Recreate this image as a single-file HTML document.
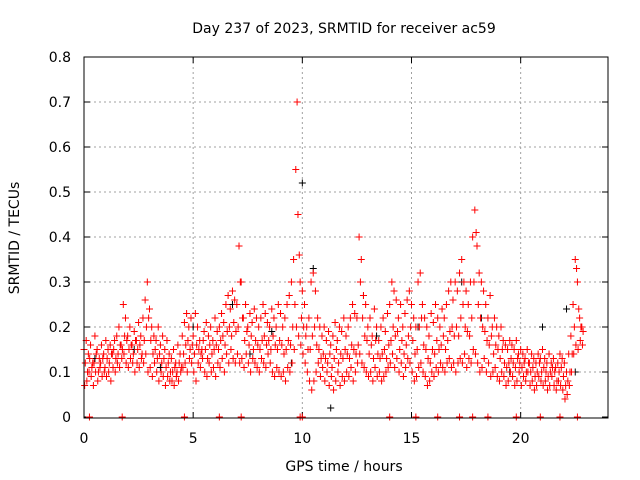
<!DOCTYPE html>
<html><head><meta charset="utf-8"><style>
body{margin:0;background:#fff;}
svg{display:block;font-family:"DejaVu Sans","Liberation Sans",sans-serif;}
</style></head><body>
<svg id="chart" width="640" height="480">
<text x="344" y="33" text-anchor="middle" font-size="14">Day 237 of 2023, SRMTID for receiver ac59</text>
<text x="344" y="471" text-anchor="middle" font-size="14">GPS time / hours</text>
<text x="19" y="238" text-anchor="middle" font-size="14" transform="rotate(-90 19 238)">SRMTID / TECUs</text>
<g id="grid"></g>
<g id="ticks"></g>
<g id="black"></g>
<g id="red"></g>
<rect x="84" y="57" width="524" height="361" fill="none" stroke="#000" stroke-width="1"/>
</svg>
<script>
const xTicks=[0,5,10,15,20];
const yTicks=[0,0.1,0.2,0.3,0.4,0.5,0.6,0.7,0.8];
const yTickLabels=["0","0.1","0.2","0.3","0.4","0.5","0.6","0.7","0.8"];
const t0=0.0, dt=0.1;
const valsA=[.15,.17,.14,.16,.12,.18,.15,.13,.16,.14,
.17,.15,.16,.14,.17,.18,.2,.16,.25,.22,
.18,.2,.16,.19,.17,.21,.18,.22,.26,.3,
.24,.2,.18,.17,.2,.16,.18,.15,.17,.14,
.13,.15,.12,.16,.14,.18,.21,.23,.2,.22,
.18,.23,.2,.17,.15,.19,.21,.18,.2,.17,
.22,.19,.2,.23,.21,.25,.27,.24,.28,.26,
.25,.38,.3,.22,.25,.2,.23,.21,.24,.22,
.2,.22,.25,.23,.21,.2,.24,.22,.2,.25,
.23,.2,.22,.25,.27,.3,.35,.55,.45,.3,
.28,.25,.2,.22,.3,.32,.28,.22,.2,.18,
.2,.17,.19,.16,.18,.21,.17,.2,.19,.22,
.18,.2,.22,.25,.23,.22,.4,.35,.27,.25,
.2,.22,.18,.24,.2,.17,.2,.22,.19,.23,
.25,.3,.28,.26,.22,.25,.2,.23,.26,.28,
.25,.22,.2,.3,.32,.25,.22,.2,.18,.23,
.21,.25,.22,.2,.24,.22,.25,.28,.3,.26,
.3,.28,.32,.35,.3,.28,.25,.3,.4,.46,
.38,.32,.3,.28,.25,.22,.27,.2,.22,.2,
.18,.2,.17,.16,.15,.17,.16,.15,.17,.14,
.15,.14,.13,.15,.12,.14,.13,.12,.14,.13,
.15,.13,.12,.14,.12,.13,.11,.12,.14,.13,
.12,.1,.14,.18,.25,.35,.3,.22,.2];
const valsB=[.07,.08,.1,.09,.07,.1,.08,.11,.09,.1,
.09,.1,.08,.11,.1,.12,.11,.13,.14,.12,
.11,.13,.12,.1,.12,.11,.13,.12,.14,.1,
.11,.09,.12,.1,.08,.1,.09,.07,.09,.08,
.08,.07,.09,.08,.1,.11,.12,.1,.13,.12,
.1,.08,.12,.11,.13,.1,.09,.12,.1,.11,
.09,.12,.11,.13,.1,.14,.12,.15,.13,.12,
.14,.12,.13,.11,.14,.12,.1,.13,.12,.11,
.1,.13,.12,.11,.14,.12,.1,.09,.11,.1,
.09,.1,.08,.11,.1,.12,.15,.2,.18,.16,
.14,.12,.1,.08,.06,.08,.1,.12,.09,.11,
.08,.1,.07,.09,.06,.08,.1,.07,.09,.08,
.1,.09,.11,.08,.1,.12,.14,.12,.11,.1,
.09,.1,.08,.11,.09,.1,.08,.09,.1,.11,
.12,.14,.11,.13,.1,.12,.09,.11,.13,.12,
.1,.08,.09,.11,.12,.1,.09,.07,.08,.1,
.09,.11,.1,.12,.11,.1,.12,.13,.11,.12,
.1,.12,.13,.12,.14,.11,.13,.12,.15,.14,
.12,.1,.11,.13,.1,.12,.09,.1,.11,.09,
.08,.1,.09,.07,.08,.1,.09,.07,.08,.1,
.07,.09,.08,.1,.07,.08,.06,.07,.09,.08,
.07,.08,.06,.07,.09,.07,.06,.08,.07,.06,
.04,.05,.07,.1,.14,.16,.15,.17,.16];
const valsC=[.12,.1,.13,.11,.12,.14,.1,.12,.13,.11,
.13,.12,.14,.15,.13,.14,.16,.15,.18,.17,
.15,.16,.14,.17,.15,.16,.14,.17,.2,.22,
.17,.14,.15,.13,.14,.12,.13,.11,.12,.1,
.1,.11,.1,.12,.11,.14,.16,.17,.15,.16,
.14,.16,.15,.14,.17,.15,.13,.16,.14,.15,
.16,.15,.17,.18,.16,.19,.2,.18,.21,.19,
.2,.3,.22,.17,.19,.16,.18,.15,.17,.16,
.15,.17,.18,.16,.17,.15,.18,.16,.15,.17,
.16,.14,.15,.17,.16,.2,.25,.7,.36,.22,
.2,.18,.15,.15,.18,.2,.16,.15,.13,.14,
.13,.12,.14,.11,.13,.15,.12,.14,.13,.15,
.14,.13,.16,.15,.14,.16,.3,.22,.18,.17,
.14,.16,.13,.17,.14,.13,.14,.15,.13,.16,
.17,.2,.18,.19,.15,.17,.14,.16,.18,.2,
.17,.14,.15,.2,.22,.16,.15,.13,.12,.15,
.14,.17,.15,.16,.18,.15,.17,.19,.2,.18,
.2,.18,.22,.25,.2,.19,.18,.22,.3,.41,
.25,.22,.2,.19,.17,.16,.18,.14,.16,.15,
.13,.15,.12,.11,.12,.13,.12,.11,.13,.12,
.11,.12,.1,.12,.1,.11,.09,.1,.12,.1,
.11,.1,.09,.1,.11,.1,.08,.1,.11,.09,
.07,.08,.1,.14,.2,.33,.24,.2,.19];
const blackTimes=[0.5,2.3,3.5,5.0,6.8,7.6,8.6,9.5,10.0,10.5,11.3,12.8,13.4,15.3,17.3,18.2,19.5,21.0,22.1,22.5];
const blackVals=[.13,.15,.11,.2,.25,.14,.19,.12,.52,.33,.02,.27,.18,.2,.3,.22,.1,.2,.24,.1];
const zeroTimes=[0.25,1.75,4.6,6.2,7.2,9.9,10.0,14.0,15.2,16.2,17.2,17.8,18.5,19.8,20.9,21.8,22.6];

const NS="http://www.w3.org/2000/svg";
const X=v=>84+v*(524/24), Y=v=>417-v*450;
function el(tag,attrs,parent){const e=document.createElementNS(NS,tag);for(const k in attrs)e.setAttribute(k,attrs[k]);parent.appendChild(e);return e;}
const grid=document.getElementById('grid'), ticks=document.getElementById('ticks');
xTicks.forEach(v=>{
  const x=X(v);
  if(v>0){const g=el('line',{x1:x,x2:x,y1:57,y2:417,stroke:'#a0a0a0','stroke-dasharray':'2,3'},grid);
  
  }
  el('line',{x1:x,x2:x,y1:418,y2:412,stroke:'#000'},ticks);
  el('line',{x1:x,x2:x,y1:57,y2:63,stroke:'#000'},ticks);
  const t=el('text',{x:x,y:443,'text-anchor':'middle','font-size':'14'},ticks);t.textContent=v;
  
  
});
yTicks.forEach((v,i)=>{
  const y=Y(v);
  if(v>0&&v<0.8){const g=el('line',{x1:84,x2:608,y1:y,y2:y,stroke:'#a0a0a0','stroke-dasharray':'2,3'},grid);
  
  }
  el('line',{x1:84,x2:90,y1:y,y2:y,stroke:'#000'},ticks);
  el('line',{x1:602,x2:608,y1:y,y2:y,stroke:'#000'},ticks);
  const t=el('text',{x:71,y:y+5,'text-anchor':'end','font-size':'14'},ticks);t.textContent=yTickLabels[i];
  
  
});
function plus(x,y){return `M${x-3.5} ${y}h7M${x} ${y-3.5}v7`;}
let dBlack="";
blackTimes.forEach((t,i)=>{dBlack+=plus(X(t),Y(blackVals[i]));});
const pb=el('path',{d:dBlack,stroke:'#000',fill:'none','stroke-width':1},document.getElementById('black'));


let dRed="";
[[valsA,0],[valsB,0.03],[valsC,0.06]].forEach(([arr,off])=>{
  arr.forEach((v,i)=>{dRed+=plus(X(t0+i*dt+off),Y(v));});
});
zeroTimes.forEach(t=>{dRed+=plus(X(t),Y(0));});
const pr=el('path',{d:dRed,stroke:'#f00',fill:'none','stroke-width':1},document.getElementById('red'));


</script>
</body></html>
